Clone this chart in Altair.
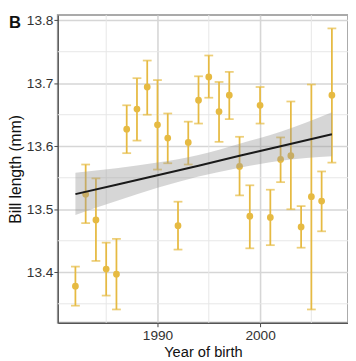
import altair as alt
import pandas as pd

years = list(range(1982, 2008))
means = [13.378, 13.524, 13.483, 13.405, 13.397, 13.627, 13.659, 13.694, 13.634, 13.613,
         13.474, 13.606, 13.673, 13.710, 13.655, 13.681, 13.568, 13.489, 13.665, 13.487,
         13.579, 13.585, 13.472, 13.520, 13.513, 13.681]
lower = [13.347, 13.478, 13.418, 13.363, 13.341, 13.589, 13.609, 13.650, 13.563, 13.573,
         13.436, 13.571, 13.636, 13.677, 13.607, 13.643, 13.522, 13.438, 13.636, 13.443,
         13.543, 13.500, 13.439, 13.341, 13.465, 13.574]
upper = [13.409, 13.571, 13.549, 13.447, 13.453, 13.665, 13.708, 13.736, 13.705, 13.652,
         13.512, 13.639, 13.711, 13.744, 13.702, 13.718, 13.615, 13.538, 13.694, 13.531,
         13.614, 13.671, 13.505, 13.698, 13.560, 13.787]

fit_years = [1982, 1986, 1990, 1994, 1998, 2002, 2007]
fit_mid = [13.524, 13.539, 13.554, 13.569, 13.585, 13.600, 13.619]
fit_lo = [13.491, 13.513, 13.534, 13.552, 13.566, 13.577, 13.584]
fit_hi = [13.558, 13.565, 13.574, 13.586, 13.604, 13.623, 13.654]

y_major = [13.4, 13.5, 13.6, 13.7, 13.8]
y_minor = [13.35, 13.45, 13.55, 13.65, 13.75]
x_major = [1990, 2000]
x_minor = [1985, 1995, 2005]
panel_label = ["B"]

pts = pd.DataFrame({"year": years, "mean": means, "lo": lower, "hi": upper})
fit = pd.DataFrame({"year": fit_years, "mid": fit_mid, "lo": fit_lo, "hi": fit_hi})

YEL = "#E6BA42"
FONT = "Liberation Sans"
MINOR = "#e6e6e6"

xscale = alt.Scale(domain=[1980.286, 2008.57], nice=False, zero=False)
yscale = alt.Scale(domain=[13.3198, 13.8082], nice=False, zero=False)

xaxis = alt.Axis(
    title="Year of birth", values=x_major, format="d",
    grid=True, gridColor="#d6d6d6", gridWidth=1.6,
    tickSize=4, tickColor="#444", domainColor="#555", domainWidth=1.2,
    labelFontSize=14, labelColor="#333", labelPadding=2, labelFont=FONT,
    titleFontSize=15, titleFont=FONT, titleFontWeight="normal", titleColor="#111",
    titlePadding=3,
)
yaxis = alt.Axis(
    title="Bill length (mm)", values=y_major, format=".1f",
    grid=True, gridColor="#d6d6d6", gridWidth=1.6, labelOverlap=False,
    tickSize=4, tickColor="#444", domainColor="#555", domainWidth=1.2,
    labelFontSize=14, labelColor="#333", labelPadding=1, labelFont=FONT,
    titleFontSize=16, titleFont=FONT, titleFontWeight="normal", titleColor="#111",
    titlePadding=3,
)

minor_h = alt.Chart(pd.DataFrame({"v": y_minor})).mark_rule(color=MINOR, strokeWidth=1).encode(
    y=alt.Y("v:Q", scale=yscale, axis=yaxis))
minor_v = alt.Chart(pd.DataFrame({"v": x_minor})).mark_rule(color=MINOR, strokeWidth=1).encode(
    x=alt.X("v:Q", scale=xscale, axis=xaxis))

base = alt.Chart(pts)

bars = base.mark_rule(color=YEL, strokeWidth=1.8).encode(
    x=alt.X("year:Q", scale=xscale, axis=xaxis),
    y=alt.Y("lo:Q", scale=yscale, axis=yaxis),
    y2="hi:Q",
)
cap_lo = base.mark_tick(color=YEL, size=9, thickness=1.8, orient="horizontal").encode(
    x="year:Q", y="lo:Q")
cap_hi = base.mark_tick(color=YEL, size=9, thickness=1.8, orient="horizontal").encode(
    x="year:Q", y="hi:Q")
dots = base.mark_circle(color=YEL, size=48, opacity=1).encode(x="year:Q", y="mean:Q")

band = alt.Chart(fit).mark_area(color="#999999", opacity=0.4, interpolate="monotone").encode(
    x="year:Q", y="lo:Q", y2="hi:Q")
line = alt.Chart(fit).mark_line(color="#1a1a1a", strokeWidth=2).encode(
    x="year:Q", y="mid:Q")

label = alt.Chart(pd.DataFrame({"t": panel_label})).mark_text(
    font=FONT, fontSize=17, fontWeight="bold", color="#111",
    align="left", baseline="top").encode(
    x=alt.value(-50), y=alt.value(0), text="t:N")

chart = alt.layer(minor_h, minor_v, bars, cap_lo, cap_hi, dots, band, line, label).properties(
    width=297, height=315,
    autosize="none",
    padding={"left": 51, "top": 3, "right": 0, "bottom": 40},
).configure_view(stroke="#aaaaaa", strokeWidth=2)

chart.save("out.html", embed_options={"renderer": "svg", "actions": False})
